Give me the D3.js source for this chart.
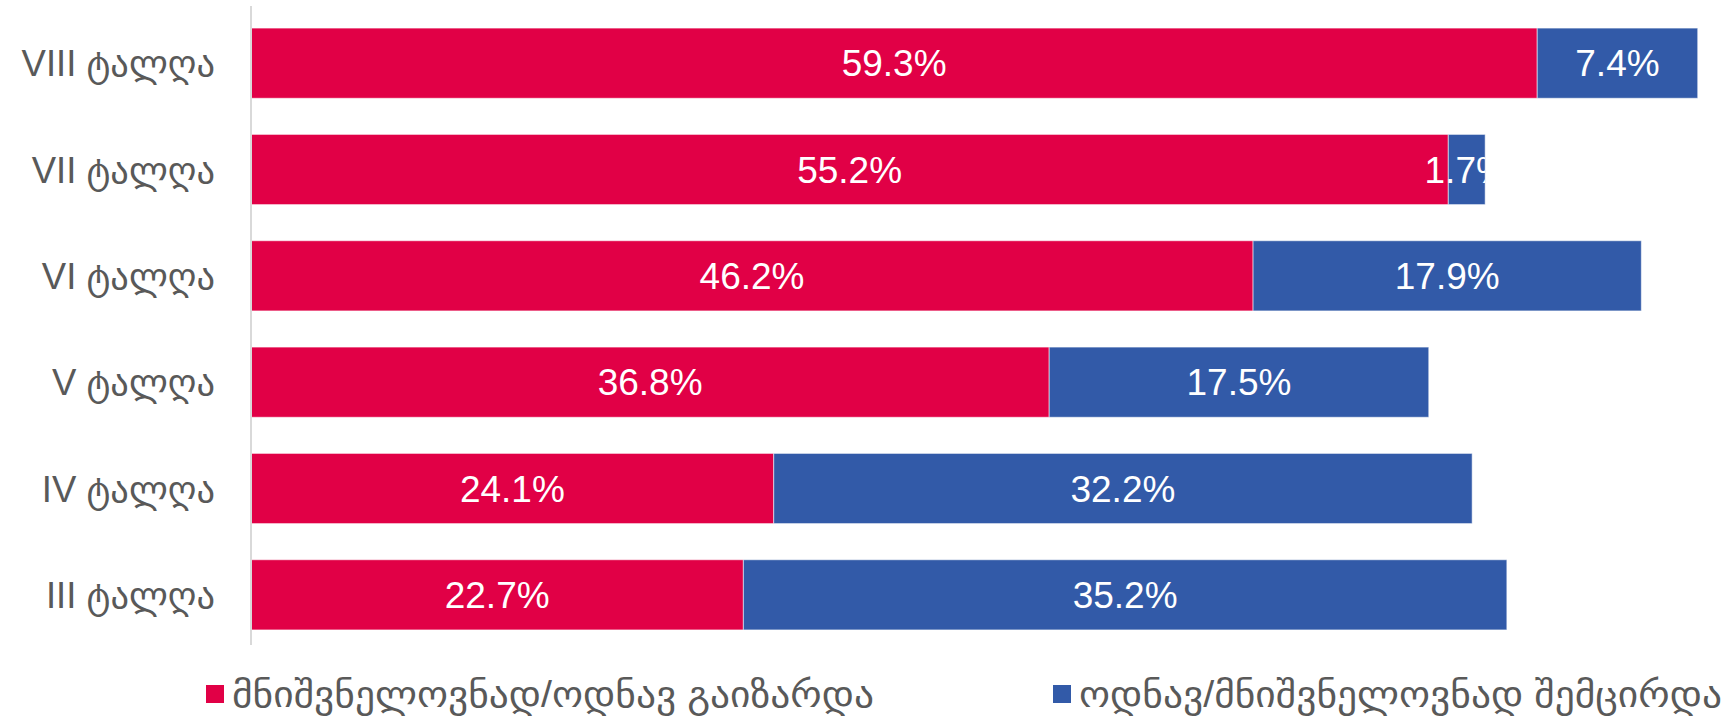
<!DOCTYPE html>
<meta charset="utf-8">
<style>
  body { margin: 0; background: #fff; }
  svg { display: block; }
  text { font-family: "Liberation Sans", Arial, "DejaVu Sans", sans-serif; }
</style>
<body>
<script src="https://d3js.org/d3.v7.min.js"></script>
<script>
// data (top to bottom)
var waves     = ["VIII ტალღა", "VII ტალღა", "VI ტალღა", "V ტალღა", "IV ტალღა", "III ტალღა"];
var increased = [59.3, 55.2, 46.2, 36.8, 24.1, 22.7];
var decreased = [7.4, 1.7, 17.9, 17.5, 32.2, 35.2];
var seriesNames  = ["მნიშვნელოვნად/ოდნავ გაიზარდა", "ოდნავ/მნიშვნელოვნად შემცირდა"];
var seriesColors = ["#e10046", "#325aa8"];

var width = 1729, height = 716;

var svg = d3.select("body").append("svg")
  .attr("width", width)
  .attr("height", height);

var x = d3.scaleLinear().domain([0, 70]).range([251, 251 + 70 * 21.69]);
var y = d3.scaleBand().domain(waves).range([10, 648])
  .paddingInner(0.34).paddingOuter(0.17);

// build stacked rows
var rows = waves.map(function(w, i){
  return {wave: w, a: increased[i], b: decreased[i]};
});
var stack = d3.stack().keys(["a", "b"])(rows);

var defs = svg.append("defs");
rows.forEach(function(r, i){
  defs.append("clipPath").attr("id", "clip" + i)
    .append("rect")
    .attr("x", x(0))
    .attr("y", y(r.wave))
    .attr("width", x(r.a + r.b) - x(0))
    .attr("height", y.bandwidth());
});

var layers = svg.selectAll("g.layer")
  .data(stack)
  .enter().append("g")
  .attr("class", "layer")
  .attr("fill", function(d, i){ return seriesColors[i]; });

layers.selectAll("rect")
  .data(function(d){ return d; })
  .enter().append("rect")
  .attr("x", function(d){ return x(d[0]); })
  .attr("y", function(d){ return y(d.data.wave); })
  .attr("width", function(d){ return x(d[1]) - x(d[0]); })
  .attr("height", y.bandwidth())
  .attr("stroke", "#fff")
  .attr("stroke-opacity", 0.55)
  .attr("stroke-width", 1);

// value labels
layers.selectAll("text")
  .data(function(d){ return d; })
  .enter().append("text")
  .attr("clip-path", function(d){ return "url(#clip" + waves.indexOf(d.data.wave) + ")"; })
  .attr("x", function(d){ return (x(d[0]) + x(d[1])) / 2; })
  .attr("y", function(d){ return y(d.data.wave) + y.bandwidth() / 2; })
  .attr("dy", "0.36em")
  .attr("text-anchor", "middle")
  .attr("fill", "#fff")
  .style("font-size", "37px")
  .text(function(d){ return (d[1] - d[0]).toFixed(1) + "%"; });

// axis line
svg.append("line")
  .attr("x1", x(0)).attr("x2", x(0))
  .attr("y1", 6).attr("y2", 645)
  .attr("stroke", "#d9d9d9")
  .attr("stroke-width", 2);

// category labels
svg.selectAll("text.cat")
  .data(waves)
  .enter().append("text")
  .attr("class", "cat")
  .attr("x", 215)
  .attr("y", function(d){ return y(d) + y.bandwidth() / 2; })
  .attr("dy", "0.36em")
  .attr("text-anchor", "end")
  .attr("fill", "#595959")
  .style("font-size", "36.5px")
  .text(function(d){ return d; });

// legend
var legendX = [206, 1053];
var legendW = [642, 643];
var legend = svg.selectAll("g.legend")
  .data(seriesNames)
  .enter().append("g")
  .attr("class", "legend")
  .attr("transform", function(d, i){ return "translate(" + legendX[i] + ",685)"; });

legend.append("rect")
  .attr("width", 18).attr("height", 18)
  .attr("fill", function(d, i){ return seriesColors[i]; });

legend.append("text")
  .attr("x", 26)
  .attr("y", 9)
  .attr("dy", "0.36em")
  .attr("fill", "#595959")
  .style("font-size", "36px")
  .attr("textLength", function(d, i){ return legendW[i]; })
  .attr("lengthAdjust", "spacingAndGlyphs")
  .text(function(d){ return d; });
</script>
</body>
